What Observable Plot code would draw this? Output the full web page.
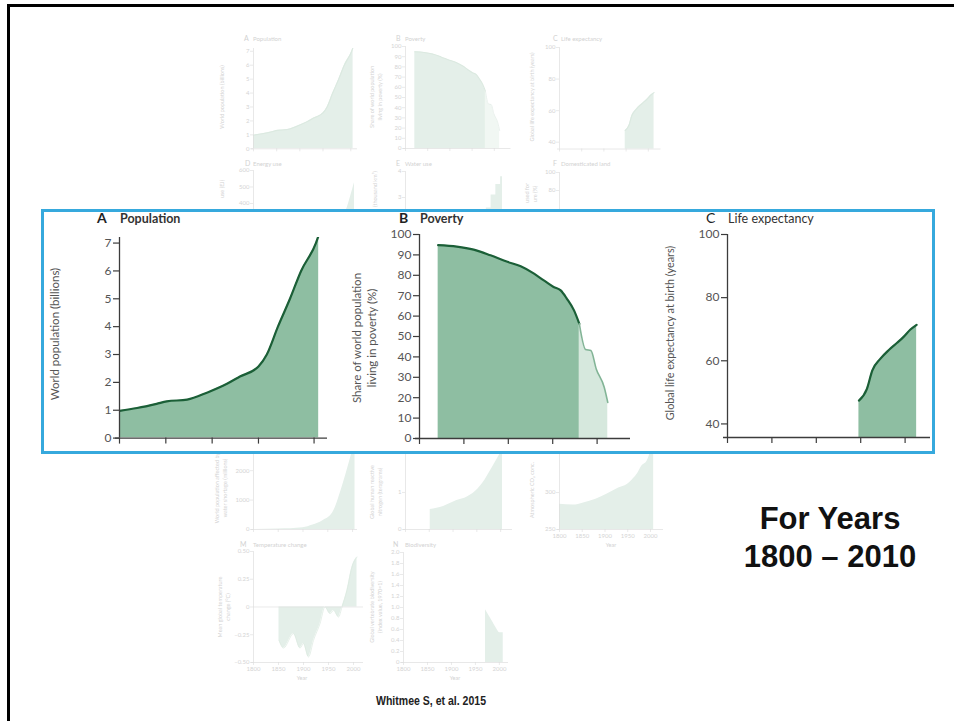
<!DOCTYPE html>
<html>
<head>
<meta charset="utf-8">
<script src="https://cdn.jsdelivr.net/npm/d3@7"></script>
<script src="https://cdn.jsdelivr.net/npm/@observablehq/plot@0.6"></script>
<style>
  html, body { margin: 0; padding: 0; background: #fff; }
  #slide { position: relative; width: 954px; height: 721px; overflow: hidden; background: #fff; }
  #slide > * { position: absolute; }
</style>
</head>
<body>
<div id="slide"></div>
<script>
// ---------------- DATA ----------------
// A Population (billions)
const popYears  = [1800, 1819, 1840, 1851, 1873, 1895, 1916, 1930, 1950, 1959, 1971, 1984, 1996, 2012, 2015];
const popValues = [0.98, 1.08, 1.23, 1.32, 1.38, 1.64, 1.95, 2.21, 2.57, 3.0, 4.0, 5.0, 6.0, 7.0, 7.28];
const popXTicks = [1800, 1850, 1900, 1950, 2010];
const popYTicks = [0, 1, 2, 3, 4, 5, 6, 7];

// B Poverty (% of world population)
const povertyYears  = [1821, 1842, 1861, 1880, 1899, 1914, 1929, 1940, 1951, 1959, 1966, 1974, 1980];
const povertyValues = [94.8, 94.1, 92.6, 89.8, 86.6, 84.4, 80.8, 77.5, 74.3, 72.6, 68.5, 62.8, 56.2];
const povertyRecentYears  = [1980, 1987, 1993, 1999, 2008, 2012];
const povertyRecentValues = [56.2, 43.6, 43.1, 34.1, 25.1, 17.7];
const povertyYTicks = [0, 10, 20, 30, 40, 50, 60, 70, 80, 90, 100];

// C Life expectancy (years)
const lifeYears  = [1948, 1957, 1963, 1972, 1982, 1991, 1998, 2006, 2013];
const lifeValues = [47.4, 51.1, 56.9, 60.6, 63.5, 65.7, 67.5, 69.9, 71.4];
const lifeYTicks = [40, 60, 80, 100];

const yearTicks = [1800, 1850, 1900, 1950, 2000];

// Background (faded) panels — only the tick labels not hidden by the highlight box
const energyYears  = [1800, 1850, 1900, 1950, 1970, 1992, 2004];
const energyValues = [20, 25, 45, 100, 230, 400, 527];
const energyYTicks = [400, 500, 600];

const waterYears  = [1800, 1900, 1950, 1960, 1970, 1980, 1990, 2000, 2004];
const waterValues = [0.2, 0.6, 1.4, 1.9, 2.6, 3.1, 3.5, 3.8, 3.96];
const waterYTicks = [3, 4];

const landYears  = [1800, 1850, 1900, 1950, 2000, 2010];
const landValues = [8, 12, 18, 28, 37, 38];
const landYTicks = [80, 100];

const shortageYears  = [1800, 1850, 1900, 1920, 1940, 1960, 1980, 2005];
const shortageValues = [0, 15, 60, 150, 300, 570, 1500, 3000];
const shortageYTicks = [0, 1000, 2000];

const nitrogenYears  = [1852, 1880, 1908, 1930, 1942, 1962, 1983, 2004];
const nitrogenValues = [0.54, 0.62, 0.78, 0.88, 0.97, 1.24, 1.68, 2.15];
const nitrogenYTicks = [0, 1];

const co2Years  = [1800, 1830, 1853, 1880, 1905, 1930, 1949, 1960, 1971, 1980, 1993, 2007];
const co2Values = [284, 283, 286, 291, 298, 306, 311, 317, 325, 335, 343, 370];
const co2YTicks = [250, 300];

const tempYears  = [1851, 1860, 1880, 1893, 1900, 1910, 1920, 1933, 1943, 1953, 1960, 1970, 1977, 1987, 1997, 2007];
const tempValues = [-0.30, -0.37, -0.24, -0.37, -0.33, -0.45, -0.30, -0.15, 0, -0.06, -0.03, -0.09, 0, 0.15, 0.36, 0.45];
const tempYTicks = [-0.5, -0.25, 0, 0.25, 0.5];

const bioYears  = [1971, 1984, 1994, 2001, 2008];
const bioValues = [0.96, 0.77, 0.62, 0.54, 0.54];
const bioYTicks = [0, 0.2, 0.4, 0.6, 0.8, 1.0, 1.2, 1.4, 1.6, 1.8, 2.0];

// ---------------- HELPERS ----------------
const FONT = "Lato, 'Open Sans', sans-serif";
const slide = document.getElementById("slide");
const rows = (years, values) => years.map((year, i) => ({year, value: values[i]}));

const mainCol = {fill: "#8ebea2", line: "#1b5f37", light: "#d6e8dd", lightLine: "#82b496", axis: "#3c3c3c", text: "#555"};
const fadeCol = {fill: "#e4efe9", line: "#dbe9e0", light: "#f1f7f3", lightLine: "#e4eee8", axis: "#dcdcdc", text: "#d4d4d4"};

function panel(cfg) {
  const {x0, y0, W, H, s, xDomain, yDomain, xTicks, yTicks, yFormat, series, col, xLabels, zero} = cfg;
  const mL = 40 * s, mR = 10, mT = 10, mB = (xLabels ? 30 : 12) * s + 2;
  const marks = [];
  for (const sr of series) {
    const curve = sr.curve || "monotone-x";
    if (sr.fill) marks.push(Plot.areaY(sr.data, {x: "year", y: "value", fill: sr.fill, curve, clip: true}));
    if (sr.stroke) marks.push(Plot.lineY(sr.data, {x: "year", y: "value", stroke: sr.stroke, strokeWidth: (sr.sw || 2.2) * s, curve, clip: true}));
  }
  if (zero) marks.push(Plot.ruleY([0], {stroke: col.axis, strokeWidth: 1.2 * s}));
  marks.push(Plot.ruleX([xDomain[0]], {stroke: col.axis, strokeWidth: 1.3 * s}));
  marks.push(Plot.ruleY([yDomain[0]], {stroke: col.axis, strokeWidth: 1.3 * s, insetLeft: -4 * s}));
  marks.push(Plot.axisY({ticks: yTicks, tickFormat: yFormat || (d => String(d)), tickSize: 6 * s, tickPadding: 2 * s,
    label: null, stroke: col.axis, fill: col.text, strokeWidth: 1.2 * s}));
  marks.push(Plot.axisX({ticks: xTicks, tickFormat: xLabels ? (d => String(d)) : (() => ""), tickSize: 6 * s,
    tickPadding: 3 * s, label: null, stroke: col.axis, fill: col.text, strokeWidth: 1.2 * s}));
  const chart = Plot.plot({
    width: mL + W + mR, height: mT + H + mB,
    marginLeft: mL, marginRight: mR, marginTop: mT, marginBottom: mB,
    x: {domain: xDomain}, y: {domain: yDomain},
    style: {fontFamily: FONT, fontSize: (12 * s) + "px", color: col.axis, background: "transparent", overflow: "visible"},
    marks
  });
  chart.style.position = "absolute";
  chart.style.left = (x0 - mL) + "px";
  chart.style.top = (y0 - H - mT) + "px";
  chart.style.maxWidth = "none";
  slide.appendChild(chart);
}

function textLayer(items) {
  const ns = "http://www.w3.org/2000/svg";
  const svg = document.createElementNS(ns, "svg");
  svg.setAttribute("width", 954); svg.setAttribute("height", 721);
  svg.style.position = "absolute"; svg.style.left = "0px"; svg.style.top = "0px";
  for (const it of items) {
    const t = document.createElementNS(ns, "text");
    t.textContent = it.t;
    if (it.rot) {
      t.setAttribute("transform", `translate(${it.x},${it.y}) rotate(-90)`);
      t.setAttribute("dy", "0.35em");
    } else {
      t.setAttribute("x", it.x); t.setAttribute("y", it.y);
    }
    if (it.len) { t.setAttribute("textLength", it.len); t.setAttribute("lengthAdjust", "spacingAndGlyphs"); }
    t.setAttribute("text-anchor", it.anchor || (it.rot ? "middle" : "start"));
    t.setAttribute("font-family", it.family || FONT);
    t.setAttribute("font-size", it.size);
    t.setAttribute("font-weight", it.weight || 400);
    t.setAttribute("fill", it.fill);
    svg.appendChild(t);
  }
  slide.appendChild(svg);
}

// ---------------- SLIDE FRAME ----------------
const border = document.createElement("div");
Object.assign(border.style, {left: "7px", top: "4px", width: "1000px", height: "800px",
  borderTop: "3px solid #000", borderLeft: "3px solid #000", boxSizing: "border-box"});
slide.appendChild(border);

// ---------------- PANEL DEFINITIONS ----------------
function defA(col, s) {
  return {W: 208 * s, H: 200.6 * s, s, xDomain: [1800, 2024.5], yDomain: [0, 7.2], xTicks: popXTicks, yTicks: popYTicks, col,
    series: [{data: rows(popYears, popValues), fill: col.fill, stroke: col.line}]};
}
function defB(col, s) {
  return {W: 211 * s, H: 204 * s, s, xDomain: [1800, 2037.6], yDomain: [0, 100], xTicks: yearTicks, yTicks: povertyYTicks, col,
    series: [{data: rows(povertyYears, povertyValues), fill: col.fill, stroke: col.line},
             {data: rows(povertyRecentYears, povertyRecentValues), fill: col.light, stroke: col.lightLine, sw: 1.6}]};
}
function defC(col, s) {
  return {W: 203 * s, H: 203 * s, s, xDomain: [1800, 2028.6], yDomain: [35.7, 100], xTicks: yearTicks, yTicks: lifeYTicks, col,
    series: [{data: rows(lifeYears, lifeValues), fill: col.fill, stroke: col.line}]};
}

// faded background figure
panel({...defA(fadeCol, 0.5), x0: 253, y0: 148});
panel({...defB(fadeCol, 0.5), x0: 405, y0: 148});
panel({...defC(fadeCol, 0.5), x0: 559, y0: 148.5});
panel({x0: 253, y0: 269, W: 104, H: 99, s: 0.5, xDomain: [1800, 2010], yDomain: [0, 600], xTicks: yearTicks, yTicks: energyYTicks, col: fadeCol,
  series: [{data: rows(energyYears, energyValues), fill: fadeCol.fill}]});
panel({x0: 405, y0: 275, W: 107, H: 104, s: 0.5, xDomain: [1800, 2025], yDomain: [0, 4], xTicks: yearTicks, yTicks: waterYTicks, col: fadeCol,
  series: [{data: rows(waterYears, waterValues), fill: fadeCol.fill, curve: "step-after"}]});
panel({x0: 559, y0: 262, W: 104, H: 90, s: 0.5, xDomain: [1800, 2028.6], yDomain: [0, 100], xTicks: yearTicks, yTicks: landYTicks, col: fadeCol,
  series: [{data: rows(landYears, landValues), fill: fadeCol.fill}]});
panel({x0: 253, y0: 529, W: 104, H: 100, s: 0.5, xDomain: [1800, 2010], yDomain: [0, 3400], xTicks: yearTicks, yTicks: shortageYTicks, col: fadeCol,
  series: [{data: rows(shortageYears, shortageValues), fill: fadeCol.fill}]});
panel({x0: 405, y0: 529, W: 107, H: 100, s: 0.5, xDomain: [1800, 2025], yDomain: [0, 2.7], xTicks: yearTicks, yTicks: nitrogenYTicks, col: fadeCol,
  series: [{data: rows(nitrogenYears, nitrogenValues), fill: fadeCol.fill}]});
panel({x0: 559, y0: 529, W: 104, H: 102, s: 0.5, xDomain: [1800, 2028.6], yDomain: [250, 388], xTicks: yearTicks, yTicks: co2YTicks, col: fadeCol, xLabels: true,
  series: [{data: rows(co2Years, co2Values), fill: fadeCol.fill}]});
panel({x0: 253, y0: 662, W: 110, H: 111, s: 0.5, xDomain: [1800, 2020], yDomain: [-0.5, 0.5], xTicks: yearTicks, yTicks: tempYTicks, col: fadeCol, xLabels: true, zero: true,
  yFormat: d => d === 0 ? "0" : (d < 0 ? "\u2013" : "") + Math.abs(d).toFixed(2),
  series: [{data: rows(tempYears, tempValues), fill: fadeCol.fill, stroke: fadeCol.line, sw: 1.4}]});
panel({x0: 403, y0: 662, W: 105, H: 110, s: 0.5, xDomain: [1800, 2019], yDomain: [0, 2], xTicks: yearTicks, yTicks: bioYTicks, col: fadeCol, xLabels: true,
  yFormat: d => d === 0 ? "0" : d.toFixed(1),
  series: [{data: rows(bioYears, bioValues), fill: fadeCol.fill}]});

const fT = "#d2d2d2";
textLayer([
  {t: "A", x: 244, y: 41, size: 7, fill: fT}, {t: "Population", x: 253, y: 41, size: 6, fill: fT},
  {t: "B", x: 396, y: 41, size: 7, fill: fT}, {t: "Poverty", x: 405, y: 41, size: 6, fill: fT},
  {t: "C", x: 553, y: 41, size: 7, fill: fT}, {t: "Life expectancy", x: 561, y: 41, size: 6, fill: fT},
  {t: "D", x: 245, y: 166, size: 7, fill: fT}, {t: "Energy use", x: 253, y: 166, size: 6, fill: fT},
  {t: "E", x: 396, y: 166, size: 7, fill: fT}, {t: "Water use", x: 405, y: 166, size: 6, fill: fT},
  {t: "F", x: 553, y: 166, size: 7, fill: fT}, {t: "Domesticated land", x: 561, y: 166, size: 6, fill: fT},
  {t: "M", x: 240, y: 547, size: 7, fill: fT}, {t: "Temperature change", x: 253, y: 547, size: 6, fill: fT},
  {t: "N", x: 393, y: 547, size: 7, fill: fT}, {t: "Biodiversity", x: 405, y: 547, size: 6, fill: fT},
  {t: "World population (billions)", x: 222, y: 97, size: 5.5, fill: fT, rot: true},
  {t: "Share of world population", x: 372, y: 97, size: 5.5, fill: fT, rot: true},
  {t: "living in poverty (%)", x: 380, y: 97, size: 5.5, fill: fT, rot: true},
  {t: "Global life expectancy at birth (years)", x: 532, y: 97, size: 5.5, fill: fT, rot: true},
  {t: "use (EJ)", x: 222, y: 189, size: 5.5, fill: fT, rot: true},
  {t: "(thousand km\u00B3)", x: 375, y: 189, size: 5.5, fill: fT, rot: true},
  {t: "used for", x: 527, y: 193, size: 5.5, fill: fT, rot: true},
  {t: "ure (%)", x: 535, y: 194, size: 5.5, fill: fT, rot: true},
  {t: "World population affected by", x: 217, y: 488, size: 5.5, fill: fT, rot: true},
  {t: "water shortage (millions)", x: 225, y: 488, size: 5.5, fill: fT, rot: true},
  {t: "Global human reactive", x: 372, y: 492, size: 5.5, fill: fT, rot: true},
  {t: "nitrogen (teragrams)", x: 380, y: 492, size: 5.5, fill: fT, rot: true},
  {t: "Atmospheric CO\u2082 conc.", x: 532, y: 490, size: 5.5, fill: fT, rot: true},
  {t: "Mean global temperature", x: 220, y: 607, size: 5.5, fill: fT, rot: true},
  {t: "change (\u00B0C)", x: 228, y: 607, size: 5.5, fill: fT, rot: true},
  {t: "Global vertebrate biodiversity", x: 372, y: 607, size: 5.5, fill: fT, rot: true},
  {t: "(index value, 1970=1)", x: 380, y: 607, size: 5.5, fill: fT, rot: true},
  {t: "Year", x: 611, y: 547, size: 5.5, fill: fT, anchor: "middle"},
  {t: "Year", x: 302, y: 680, size: 5.5, fill: fT, anchor: "middle"},
  {t: "Year", x: 455, y: 680, size: 5.5, fill: fT, anchor: "middle"}
]);

// ---------------- HIGHLIGHT BOX ----------------
const box = document.createElement("div");
Object.assign(box.style, {left: "41px", top: "209px", width: "894px", height: "245px",
  border: "3px solid #36a9dd", background: "#fff", boxSizing: "border-box"});
slide.appendChild(box);

// main enlarged panels
panel({...defA(mainCol, 1), x0: 119, y0: 438});
panel({...defB(mainCol, 1), x0: 419, y0: 438});
panel({...defC(mainCol, 1), x0: 727, y0: 437});

textLayer([
  {t: "A", x: 97, y: 223, size: 14, weight: 700, fill: "#222"},
  {t: "Population", x: 120, y: 223, size: 12.5, weight: 700, fill: "#333"},
  {t: "B", x: 399, y: 223, size: 14, weight: 700, fill: "#222"},
  {t: "Poverty", x: 420, y: 223, size: 12.5, weight: 700, fill: "#333"},
  {t: "C", x: 706, y: 223, size: 14, weight: 400, fill: "#222"},
  {t: "Life expectancy", x: 728, y: 223, size: 12.5, weight: 400, fill: "#333"},
  {t: "World population (billions)", x: 55, y: 334, size: 11.5, fill: "#555", rot: true},
  {t: "Share of world population", x: 357, y: 338, size: 11.5, fill: "#555", rot: true},
  {t: "living in poverty (%)", x: 372, y: 338, size: 11.5, fill: "#555", rot: true},
  {t: "Global life expectancy at birth (years)", x: 670, y: 333, size: 10.8, fill: "#555", rot: true},
  {t: "For Years", x: 830, y: 529, size: 31, weight: 700, fill: "#111", anchor: "middle", family: "'Liberation Sans', Arial, sans-serif"},
  {t: "1800 \u2013 2010", x: 830, y: 567, size: 31, weight: 700, fill: "#111", anchor: "middle", family: "'Liberation Sans', Arial, sans-serif"},
  {t: "Whitmee S, et al. 2015", x: 376, y: 705, size: 12, weight: 700, fill: "#222", len: 110, family: "'Liberation Sans', Arial, sans-serif"}
]);
</script>
</body>
</html>
